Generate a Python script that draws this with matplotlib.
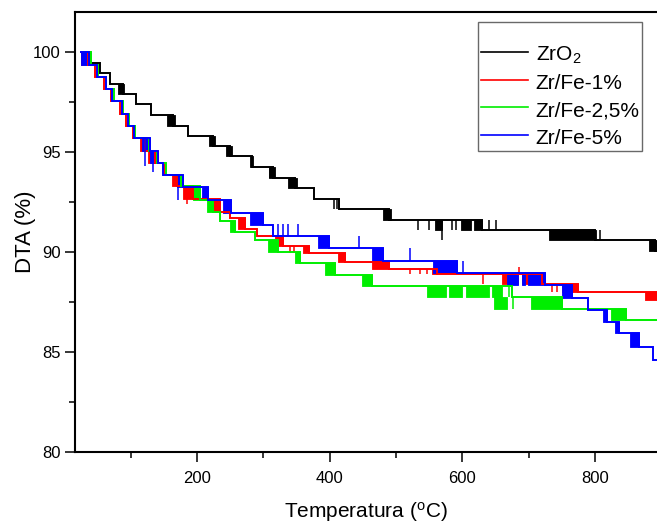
import matplotlib
matplotlib.use("Agg")
import matplotlib.pyplot as plt
from matplotlib.ticker import FixedLocator

plt.rcParams['font.family'] = ['Liberation Sans', 'DejaVu Sans']
plt.rcParams['mathtext.fontset'] = 'custom'
plt.rcParams['mathtext.rm'] = 'Liberation Sans'
plt.rcParams['mathtext.it'] = 'Liberation Sans'

# ---------------- data ----------------
labels = ['ZrO$_2$', 'Zr/Fe-1%', 'Zr/Fe-2,5%', 'Zr/Fe-5%']
colors = ['#000000', '#ff0000', '#00ee00', '#0000ff']

# step curves: temperature where a new level starts, and the level
zro2_x = [25, 38, 53, 68, 88, 107, 130, 163, 186, 224, 250, 282, 315, 348, 376, 414, 490, 630, 800, 890, 893]
zro2_y = [100.0, 99.47, 98.95, 98.42, 97.9, 97.4, 96.83, 96.32, 95.82, 95.28, 94.78, 94.23, 93.7, 93.18,
          92.67, 92.15, 91.62, 91.12, 90.58, 90.03, 90.03]
# flicker blocks: (T start, T end, low level, high level)
zro2_blocks = [(25, 38, 99.47, 100.0), (81, 90, 97.9, 98.42), (155, 166, 96.32, 96.83), (218, 227, 95.28, 95.82),
               (244, 253, 94.78, 95.28), (280, 284, 94.23, 94.78), (309, 317, 93.7, 94.23), (337, 351, 93.18, 93.7),
               (480, 492, 91.62, 92.15), (558, 570, 91.12, 91.62), (598, 613, 91.12, 91.62), (617, 630, 91.12, 91.62),
               (730, 801, 90.58, 91.12), (882, 893, 90.03, 90.58)]
# single spikes: (T, low, high)
zro2_spikes = [(310, 93.7, 94.23), (314, 93.7, 94.23), (407, 92.15, 92.67), (411, 92.15, 92.67),
               (533, 91.12, 91.62), (550, 91.12, 91.62), (569, 90.58, 91.62), (585, 91.12, 91.62),
               (590, 91.12, 91.62), (640, 91.12, 91.62), (650, 91.12, 91.62), (808, 90.58, 91.12)]

fe1_x = [25, 35, 46, 59, 70, 84, 93, 103, 122, 136, 150, 170, 193, 235, 250, 272, 290, 330, 368, 423, 490,
         562, 720, 774, 893]
fe1_y = [100.0, 99.35, 98.75, 98.15, 97.55, 96.9, 96.3, 95.7, 95.03, 94.43, 93.85, 93.3, 92.65, 92.0, 91.7,
         91.15, 90.78, 90.28, 89.95, 89.52, 89.15, 88.9, 88.4, 88.0, 88.0]
fe1_blocks = [(25, 35, 99.35, 100.0), (114, 122, 95.03, 95.7), (126, 136, 94.43, 95.03), (162, 170, 93.3, 93.85),
              (179, 193, 92.65, 93.3), (224, 235, 92.0, 92.65), (262, 272, 91.15, 91.7), (318, 330, 90.28, 90.78),
              (360, 368, 89.95, 90.28), (413, 423, 89.52, 89.95), (464, 490, 89.15, 89.52), (554, 562, 88.9, 89.15),
              (660, 667, 88.4, 88.9), (675, 684, 88.4, 88.9), (690, 720, 88.4, 88.9), (750, 774, 88.0, 88.4),
              (875, 893, 87.6, 88.0)]
fe1_spikes = [(185, 92.4, 92.65), (340, 89.95, 90.28), (346, 89.95, 90.28), (521, 88.9, 89.15), (536, 88.9, 89.15),
              (546, 88.9, 89.15), (631, 88.4, 88.9), (686, 88.9, 89.25), (735, 88.0, 88.4), (743, 88.0, 88.4)]

fe25_x = [30, 40, 50, 62, 74, 88, 97, 106, 128, 140, 153, 176, 205, 224, 234, 257, 287, 322, 355, 408, 464,
          675, 750, 847, 893]
fe25_y = [100.0, 99.35, 98.75, 98.15, 97.55, 96.9, 96.3, 95.7, 95.03, 94.43, 93.85, 93.3, 92.6, 92.0, 91.55,
          91.02, 90.6, 90.0, 89.45, 88.85, 88.3, 87.73, 87.15, 86.62, 86.62]
fe25_blocks = [(30, 40, 99.35, 100.0), (118, 128, 95.03, 95.7), (130, 140, 94.43, 95.03), (168, 176, 93.3, 93.85),
               (194, 205, 92.6, 93.3), (215, 224, 92.0, 92.6), (250, 257, 91.02, 91.55), (307, 322, 90.0, 90.6),
               (348, 355, 89.45, 90.0), (393, 408, 88.85, 89.45), (449, 464, 88.3, 88.85), (547, 575, 87.73, 88.3),
               (580, 600, 87.73, 88.3), (605, 640, 87.73, 88.3), (645, 660, 87.73, 88.3), (647, 667, 87.15, 87.73),
               (704, 750, 87.15, 87.73), (824, 847, 86.62, 87.15)]
fe25_spikes = [(670, 87.73, 88.3), (676, 87.15, 87.73)]

fe5_x = [25, 37, 49, 62, 72, 87, 95, 104, 129, 141, 149, 179, 217, 251, 300, 315, 399, 481, 592, 725, 765,
         790, 818, 836, 866, 888, 893]
fe5_y = [100.0, 99.35, 98.75, 98.15, 97.55, 96.9, 96.3, 95.7, 95.03, 94.43, 93.85, 93.27, 92.6, 91.93, 91.35,
         90.8, 90.2, 89.55, 88.95, 88.33, 87.7, 87.1, 86.5, 85.93, 85.27, 84.6, 84.6]
fe5_blocks = [(25, 37, 99.35, 100.0), (117, 129, 95.03, 95.7), (129, 141, 94.43, 95.03), (169, 179, 93.27, 93.85),
              (207, 217, 92.6, 93.27), (239, 251, 91.93, 92.6), (280, 300, 91.35, 91.93), (382, 399, 90.2, 90.8),
              (464, 481, 89.55, 90.2), (556, 592, 88.95, 89.55), (667, 684, 88.33, 88.95), (690, 695, 88.33, 88.95),
              (699, 725, 88.33, 88.95), (750, 765, 87.7, 88.33), (812, 818, 86.5, 87.1), (830, 836, 85.93, 86.5),
              (853, 866, 85.27, 85.93)]
fe5_spikes = [(121, 94.3, 95.7), (133, 94.0, 95.03), (171, 92.6, 93.27), (322, 90.8, 91.4), (330, 90.8, 91.4),
              (337, 90.8, 91.4), (352, 90.8, 91.4), (444, 90.2, 90.8), (521, 89.55, 90.2), (601, 88.95, 89.55)]

series = [(zro2_x, zro2_y, zro2_blocks, zro2_spikes),
          (fe1_x, fe1_y, fe1_blocks, fe1_spikes),
          (fe25_x, fe25_y, fe25_blocks, fe25_spikes),
          (fe5_x, fe5_y, fe5_blocks, fe5_spikes)]

x_major = [200, 400, 600, 800]
x_minor = [100, 300, 500, 700]
y_major = [80, 85, 90, 95, 100]
y_minor = [82.5, 87.5, 92.5, 97.5]

# ---------------- figure ----------------
W, H = 657, 524
fig = plt.figure(figsize=(W / 100, H / 100), dpi=100)
ax = fig.add_axes([74.5 / W, 72 / H, (W - 74.5) / W, 440 / H])

lw = 1.4
handles = []
for (xs, ys, blocks, spikes), c, lab in zip(series, colors, labels):
    h, = ax.step(xs, ys, where='post', color=c, lw=lw, label=lab, solid_joinstyle='miter')
    handles.append(h)
    for (x0, x1, lo, hi) in blocks:
        ax.fill_between([x0, x1], [lo, lo], [hi, hi], color=c, lw=0.6, edgecolor=c)
    for (xx, lo, hi) in spikes:
        ax.vlines(xx, lo, hi, color=c, lw=1.1)

ax.set_xlim(15, 893.5)
ax.set_ylim(80, 102)
ax.xaxis.set_major_locator(FixedLocator(x_major))
ax.xaxis.set_minor_locator(FixedLocator(x_minor))
ax.yaxis.set_major_locator(FixedLocator(y_major))
ax.yaxis.set_minor_locator(FixedLocator(y_minor))
ax.tick_params(which='major', direction='out', length=7, width=1.1, labelsize=12, pad=3)
ax.tick_params(which='minor', direction='out', length=4, width=1.1)
ax.tick_params(axis='x', which='major', pad=7)
for s in ['left', 'bottom', 'top']:
    ax.spines[s].set_linewidth(1.5)
ax.spines['right'].set_visible(False)

ax.set_xlabel('Temperatura ($^{\\mathrm{o}}$C)', fontsize=15, labelpad=9.5)
ax.set_ylabel('DTA (%)', fontsize=16, labelpad=-2.5)

leg = fig.legend(handles=handles, loc='upper left', bbox_to_anchor=(478 / W, 1 - 21.7 / H),
                 fontsize=15, frameon=True, fancybox=False, edgecolor='#444444',
                 handlelength=2.3, handletextpad=0.35, labelspacing=0.22, borderpad=0.12,
                 handleheight=1.3, borderaxespad=0, title=' ', title_fontsize=10)
leg.get_frame().set_linewidth(1.0)
for l in leg.get_lines():
    l.set_linewidth(1.2)

fig.savefig('out.png', dpi=100)
